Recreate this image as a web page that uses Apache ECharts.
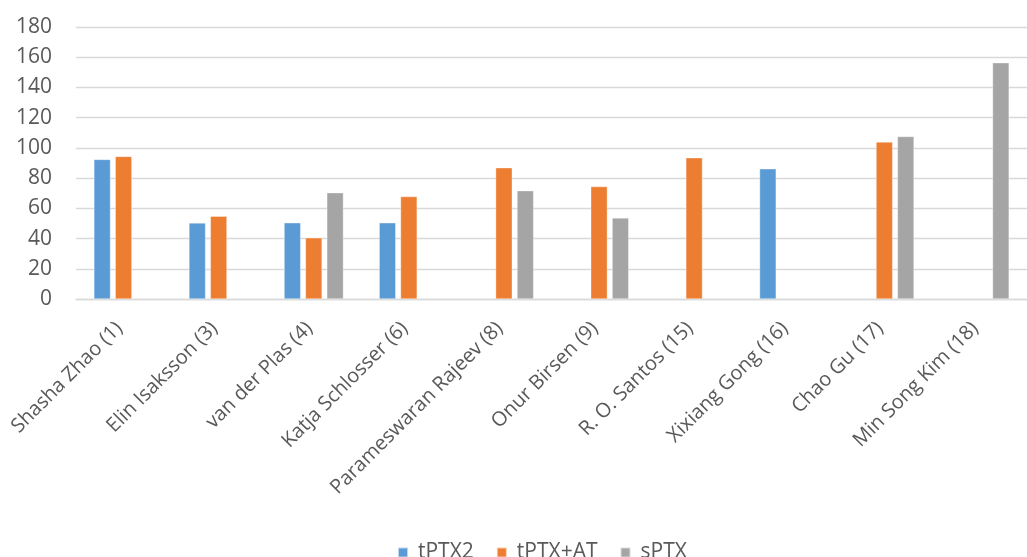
<!DOCTYPE html>
<html>
<head>
<meta charset="utf-8">
<script src="https://cdn.jsdelivr.net/npm/echarts@6/dist/echarts.min.js"></script>
<style>
  html, body { margin: 0; padding: 0; background: #ffffff; }
  #chart { width: 1027px; height: 557px; }
</style>
</head>
<body>
<div id="chart"></div>
<script>
// Participants (x-axis categories)
const categories = [
  'Shasha Zhao (1)', 'Elin Isaksson (3)', 'van der Plas (4)', 'Katja Schlosser (6)',
  'Parameswaran Rajeev (8)', 'Onur Birsen (9)', 'R. O. Santos (15)', 'Xixiang Gong (16)',
  'Chao Gu (17)', 'Min Song Kim (18)'
];

// Series values (null = no bar for that participant)
const tPTX2  = [92.4, 50.4, 50.5, 50.5, null, null, null, 86.2, null, null];
const tPTXAT = [94.4, 54.8, 40.5, 67.8, 86.9, 74.4, 93.5, null, 103.9, null];
const sPTX   = [null, null, 70.4, null, 71.7, 53.7, null, null, 107.6, 156.4];

const seriesNames = ['tPTX2', 'tPTX+AT', 'sPTX'];
const seriesColors = ['#5B9BD5', '#ED7D31', '#A5A5A5'];

// Y-axis scale
const yMin = 0, yMax = 180, yStep = 20;

const FONT = 'Open Sans';
const TEXT = '#595959';
const GRID = '#D9D9D9';

const chart = echarts.init(document.getElementById('chart'), null, { renderer: 'canvas' });

const makeBar = (name, data, color) => ({
  name: name,
  type: 'bar',
  data: data,
  barWidth: 16.7,
  barGap: '28%',
  itemStyle: { color: color, borderColor: 'rgba(255,255,255,0.6)', borderWidth: 0.6 },
  emphasis: { disabled: true }
});

chart.setOption({
  animation: false,
  backgroundColor: '#ffffff',
  textStyle: { fontFamily: FONT },
  grid: { left: 76, top: 27, width: 963, height: 272, containLabel: false },
  legend: {
    data: seriesNames,
    left: 392,
    top: 537,
    icon: 'rect',
    itemWidth: 10,
    itemHeight: 10,
    itemGap: 22,
    textStyle: { color: TEXT, fontSize: 21, fontFamily: FONT, padding: [0, 0, 0, 5] }
  },
  xAxis: {
    type: 'category',
    data: categories,
    axisLine: { show: true, lineStyle: { color: GRID, width: 1.3 } },
    axisTick: { show: false },
    axisLabel: {
      rotate: 45,
      interval: 0,
      margin: 22,
      padding: [0, 6, 0, 0],
      color: TEXT,
      fontSize: 20,
      fontFamily: FONT
    }
  },
  yAxis: {
    type: 'value',
    min: yMin,
    max: yMax,
    interval: yStep,
    axisLine: { show: false },
    axisTick: { show: false },
    splitLine: { lineStyle: { color: GRID, width: 1.3 } },
    axisLabel: { color: TEXT, fontSize: 21, fontFamily: FONT, margin: 24 }
  },
  series: [
    makeBar(seriesNames[0], tPTX2, seriesColors[0]),
    makeBar(seriesNames[1], tPTXAT, seriesColors[1]),
    makeBar(seriesNames[2], sPTX, seriesColors[2])
  ]
});
</script>
</body>
</html>
